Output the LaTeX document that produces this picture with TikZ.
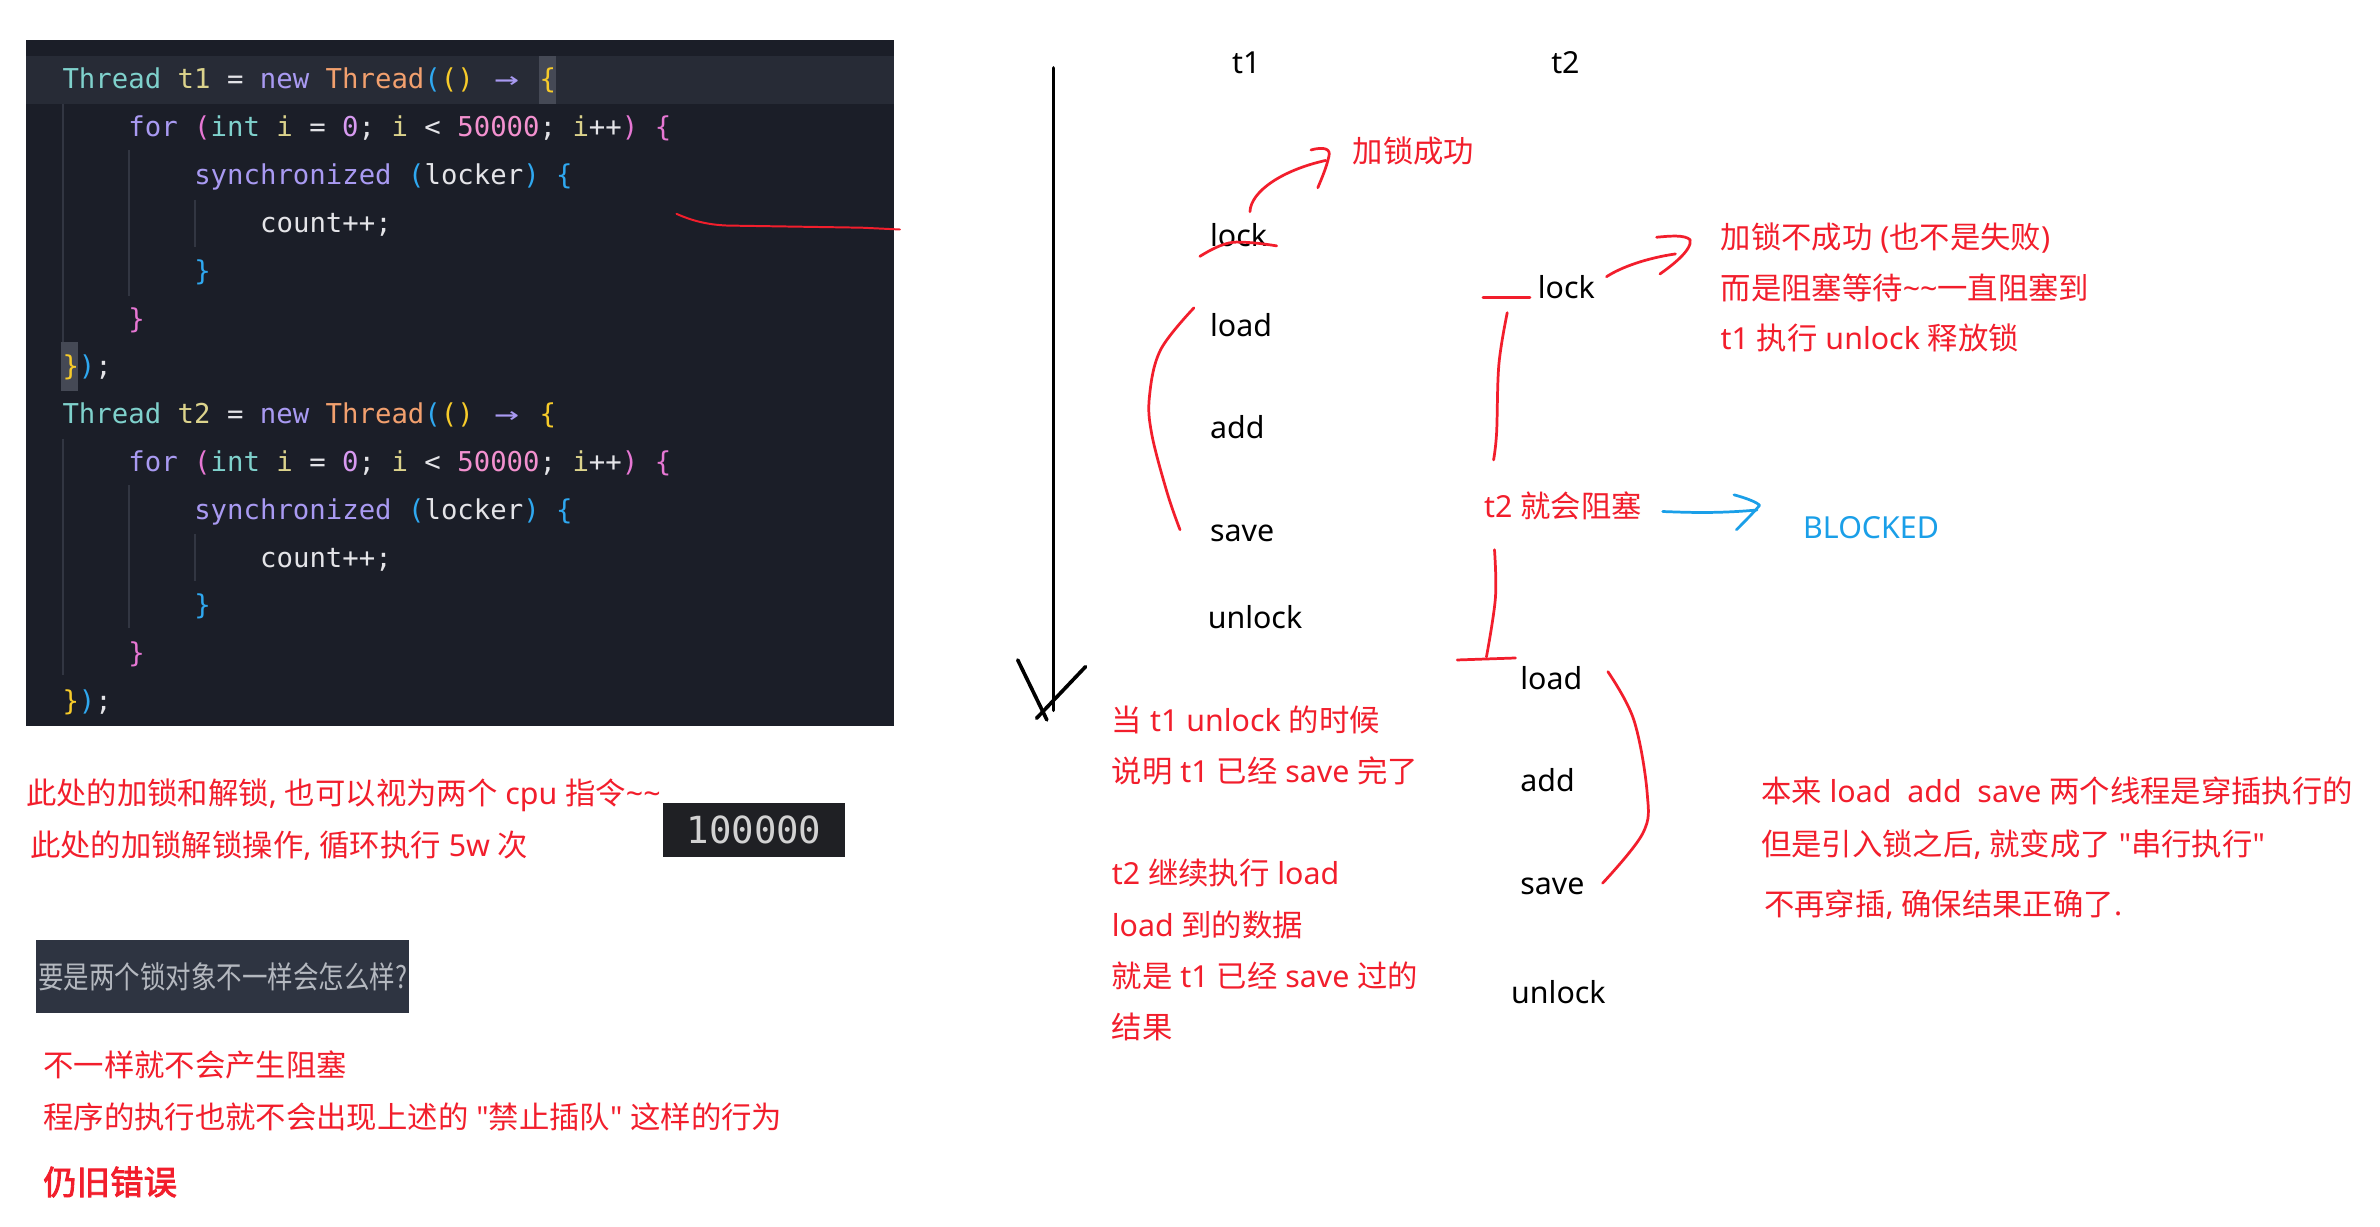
\documentclass[tikz,border=0pt]{standalone}
\usepackage{fontspec}
\usepackage{graphicx}
\newfontfamily\lat{Noto Sans}
\newfontfamily\cjk{Noto Sans CJK SC}
\newfontfamily\cjkbold{Noto Sans CJK SC}[FakeBold=2.5]
\newfontfamily\codefont{DejaVu Sans Mono}
\definecolor{myred}{HTML}{F21E2C}
\definecolor{myblue}{HTML}{1A9FE8}
\definecolor{cbg}{HTML}{1B1E28}
\definecolor{cband}{HTML}{272B36}
\definecolor{chl}{HTML}{454955}
\definecolor{cguide}{HTML}{323642}
\definecolor{cteal}{HTML}{7FD1CC}
\definecolor{ckhaki}{HTML}{DCD38C}
\definecolor{cwhite}{HTML}{E4E4E8}
\definecolor{cpurple}{HTML}{A99AF2}
\definecolor{corange}{HTML}{F2A06E}
\definecolor{cblue}{HTML}{2FA8F0}
\definecolor{cyellow}{HTML}{F7CB2A}
\definecolor{cpink}{HTML}{E777D4}
\definecolor{cnum}{HTML}{F391CF}
\definecolor{czero}{HTML}{D79AF0}
\definecolor{numbg}{HTML}{1F2024}
\definecolor{numfg}{HTML}{D2D2D2}
\definecolor{qbg}{HTML}{2E3441}
\definecolor{qfg}{HTML}{B4B8BF}
\newcommand{\kc}[2]{\textcolor{#1}{#2}}
\newcommand{\codearr}{\makebox[1.204em][c]{\scalebox{1.5}[1]{→}}}
\frenchspacing
\tikzset{
  rtxt/.style={anchor=base west, inner sep=0pt, text=myred, font=\lat\fontsize{20}{24}\selectfont},
  btxt/.style={anchor=base west, inner sep=0pt, text=black, font=\lat\fontsize{20}{24}\selectfont},
  codeline/.style={anchor=base west, inner sep=0pt, font=\codefont\fontsize{18}{20}\selectfont},
  hand/.style={draw=myred, line width=1.8pt, line cap=round, line join=round},
  guide/.style={draw=cguide, line width=1pt},
}
\begin{document}
\begin{tikzpicture}[x=1pt,y=-1pt]
\useasboundingbox (0,0) rectangle (1568,808);
\fill[white] (0,0) rectangle (1568,808);

% ---------------- code panel ----------------
\fill[cbg] (16.9,26.2) rectangle (588.7,478);
\fill[cband] (16.9,36.8) rectangle (588.7,68.3);
\fill[chl] (355.2,36.8) rectangle (366.6,68.3);
\fill[chl] (40.5,225.6) rectangle (51.5,257.4);
% indent guides
\draw[guide] (41.5,68.3) -- (41.5,225.6);
\draw[guide] (85,99) -- (85,194.7);
\draw[guide] (128.3,131.5) -- (128.3,162.4);
\draw[guide] (41.5,288.9) -- (41.5,444.7);
\draw[guide] (85,319.6) -- (85,413.8);
\draw[guide] (128.3,352) -- (128.3,383);

\node[codeline] (c0) at (41,58.6) {\kc{cteal}{Thread} \kc{ckhaki}{t1} \kc{cwhite}{=} \kc{cpurple}{new} \kc{corange}{Thread}\kc{cblue}{(}\kc{cyellow}{()} \kc{cpurple}{\codearr} \kc{cyellow}{\{}};
\node[codeline] (c1) at (84.4,90.1) {\kc{cpurple}{for} \kc{cpink}{(}\kc{cteal}{int} \kc{ckhaki}{i} \kc{cwhite}{=} \kc{czero}{0}\kc{cwhite}{;} \kc{ckhaki}{i} \kc{cwhite}{<} \kc{cnum}{50000}\kc{cwhite}{;} \kc{ckhaki}{i}\kc{cwhite}{++}\kc{cpink}{)} \kc{cpink}{\{}};
\node[codeline] (c2) at (127.8,121.6) {\kc{cpurple}{synchronized} \kc{cblue}{(}\kc{cwhite}{locker}\kc{cblue}{)} \kc{cblue}{\{}};
\node[codeline] (c3) at (171.2,153.1) {\kc{cwhite}{count++;}};
\node[codeline] (c4) at (127.8,184.6) {\kc{cblue}{\}}};
\node[codeline] (c5) at (84.4,216.1) {\kc{cpink}{\}}};
\node[codeline] (c6) at (41,247.6) {\kc{cyellow}{\}}\kc{cblue}{)}\kc{cwhite}{;}};
\node[codeline] (c7) at (41,279.1) {\kc{cteal}{Thread} \kc{ckhaki}{t2} \kc{cwhite}{=} \kc{cpurple}{new} \kc{corange}{Thread}\kc{cblue}{(}\kc{cyellow}{()} \kc{cpurple}{\codearr} \kc{cyellow}{\{}};
\node[codeline] (c8) at (84.4,310.6) {\kc{cpurple}{for} \kc{cpink}{(}\kc{cteal}{int} \kc{ckhaki}{i} \kc{cwhite}{=} \kc{czero}{0}\kc{cwhite}{;} \kc{ckhaki}{i} \kc{cwhite}{<} \kc{cnum}{50000}\kc{cwhite}{;} \kc{ckhaki}{i}\kc{cwhite}{++}\kc{cpink}{)} \kc{cpink}{\{}};
\node[codeline] (c9) at (127.8,342.1) {\kc{cpurple}{synchronized} \kc{cblue}{(}\kc{cwhite}{locker}\kc{cblue}{)} \kc{cblue}{\{}};
\node[codeline] (c10) at (171.2,373.6) {\kc{cwhite}{count++;}};
\node[codeline] (c11) at (127.8,405.1) {\kc{cblue}{\}}};
\node[codeline] (c12) at (84.4,436.6) {\kc{cpink}{\}}};
\node[codeline] (c13) at (41,468.1) {\kc{cyellow}{\}}\kc{cblue}{)}\kc{cwhite}{;}};

% red mark next to the code
\coordinate (mk1) at (445.7,140.9);
\coordinate (mk2) at (592.9,151.2);
\draw[hand, line width=1.3pt] (mk1) .. controls (455,145) and (465,148) .. (479,148.6) -- (567.7,150) -- (mk2);

% ---------------- left notes ----------------
\node[rtxt] (n1) at (17,530) {{\cjk 此处的加锁和解锁}, {\cjk 也可以视为两个} cpu {\cjk 指令}\textasciitilde\textasciitilde};
\node[rtxt] (n2) at (19.7,564) {{\cjk 此处的加锁解锁操作}, {\cjk 循环执行} 5w {\cjk 次}};
\node[fill=numbg, text=numfg, minimum width=119.9pt, minimum height=35.2pt, inner sep=0pt,
      font=\codefont\fontsize{24.6}{26}\selectfont] (num) at (496.75,546.8) {100000};
\node[fill=qbg, text=qfg, minimum width=245.8pt, minimum height=47.8pt, inner sep=0pt,
      font=\cjk\fontsize{16.8}{20}\selectfont] (q) at (146.7,643.2) {\scalebox{1}[1.2]{要是两个锁对象不一样会怎么样?}};
\node[rtxt] (d1) at (28.4,709.5) {{\cjk 不一样就不会产生阻塞}};
\node[rtxt] (d2) at (28.4,743.5) {{\cjk 程序的执行也就不会出现上述的} "{\cjk 禁止插队}" {\cjk 这样的行为}};
\node[rtxt, font=\cjkbold\fontsize{22}{26}\selectfont] (d3) at (28.4,787) {仍旧错误};

% ---------------- time axis ----------------
\coordinate (tTop) at (694,44.7);
\coordinate (tEnd) at (694,468);
\coordinate (hL) at (670.5,434.8);
\coordinate (hLe) at (689.7,474.3);
\coordinate (hR) at (715.2,439.2);
\coordinate (hRe) at (682.9,473.2);
\draw[line width=2.4pt, line cap=round] (tTop) -- (tEnd);
\draw[line width=2.4pt, line cap=round] (hL) -- (hLe);
\draw[line width=2.4pt, line cap=round] (hR) -- (hRe);

% ---------------- thread columns ----------------
\node[btxt] (t1) at (811.6,48.3) {t1};
\node[btxt] (t2) at (1021.8,48.3) {t2};
\node[btxt] (a1) at (797,162.5) {lock};
\node[btxt] (a2) at (797,221.6) {load};
\node[btxt] (a3) at (797,289) {add};
\node[btxt] (a4) at (797,356.7) {save};
\node[btxt] (a5) at (795.5,414) {unlock};
\node[btxt] (b1) at (1013,196.6) {lock};
\node[btxt] (b2) at (1001.4,454) {load};
\node[btxt] (b3) at (1001.4,521.5) {add};
\node[btxt] (b4) at (1001.4,589.6) {save};
\node[btxt] (b5) at (995.4,661) {unlock};

% t1 lock: strike + arrow to 加锁成功
\node[rtxt] (ok) at (891,107) {{\cjk 加锁成功}};
\draw[hand] (790.5,168.9) .. controls (800,163) and (808,159.5) .. (814.6,159.5) .. controls (825,159.5) and (835,161) .. (841.1,162);
\coordinate (okS) at (823.5,139.5);
\coordinate (okE) at (873.4,105.7);
\draw[hand] (okS) .. controls (824,126) and (845,112) .. (okE);
\draw[hand] (863.7,98.8) .. controls (872,96.5) and (877,98) .. (875.5,103) .. controls (874,110) and (871,117) .. (868.2,123.7);
% t1 bracket load..save
\draw[hand] plot[smooth, tension=0.6] coordinates {(786.6,202.8) (764.6,230.5) (757.3,261) (758.8,286) (769,324.8) (777.4,349)};

% t2 lock
\draw[hand] (977,196) -- (1008,196);
\coordinate (fS) at (1058.4,182.3);
\coordinate (fE) at (1103.8,167.3);
\draw[hand] (fS) .. controls (1068,176) and (1085,170) .. (fE);
\draw[hand] (1091.4,156.3) .. controls (1100,155.5) and (1110,154.5) .. (1113.5,158) .. controls (1115,165) and (1100,176) .. (1093.6,180.5);
\node[rtxt] (f1) at (1133.4,164) {{\cjk 加锁不成功} ({\cjk 也不是失败})};
\node[rtxt] (f2) at (1133.4,197) {{\cjk 而是阻塞等待}\textasciitilde\textasciitilde{\cjk 一直阻塞到}};
\node[rtxt] (f3) at (1133.4,230.5) {t1 {\cjk 执行} unlock {\cjk 释放锁}};
\draw[hand] plot[smooth, tension=0.6] coordinates {(993,206) (987.5,240) (986,285) (984,303)};

% blocked
\node[rtxt] (blk) at (977.6,341) {t2 {\cjk 就会阻塞}};
\coordinate (bS) at (1095.4,337);
\coordinate (bE) at (1157.5,336);
\draw[draw=myblue, line width=1.8pt, line cap=round, line join=round] (bS) .. controls (1110,337.5) and (1130,338.5) .. (bE);
\draw[draw=myblue, line width=1.8pt, line cap=round, line join=round] (1142.4,326) .. controls (1150,328) and (1158,331) .. (1159.2,333) .. controls (1155,338) and (1149,344) .. (1144,349);
\node[btxt, text=myblue] (BL) at (1187.8,354.6) {BLOCKED};

\draw[hand] plot[smooth, tension=0.6] coordinates {(984.6,362.2) (985.2,394) (979.3,432.8)};
\draw[hand] (960,434.8) -- (998.4,433.5);

% t2 bracket load..save
\draw[hand] plot[smooth, tension=0.6] coordinates {(1059.3,442.5) (1076.4,474.3) (1085.2,522.6) (1082.3,549) (1055.8,581.9)};

% middle notes
\node[rtxt] (m1) at (732.3,482) {{\cjk 当} t1 unlock {\cjk 的时候}};
\node[rtxt] (m2) at (732.3,515.7) {{\cjk 说明} t1 {\cjk 已经} save {\cjk 完了}};
\node[rtxt] (m3) at (732.3,583) {t2 {\cjk 继续执行} load};
\node[rtxt] (m4) at (732.3,616.7) {load {\cjk 到的数据}};
\node[rtxt] (m5) at (732.3,650.4) {{\cjk 就是} t1 {\cjk 已经} save {\cjk 过的}};
\node[rtxt] (m6) at (732.3,684) {{\cjk 结果}};

% right notes
\node[rtxt] (r1) at (1160,528.5) {{\cjk 本来} load\ \ add\ \ save {\cjk 两个线程是穿插执行的}};
\node[rtxt] (r2) at (1160,563.5) {{\cjk 但是引入锁之后}, {\cjk 就变成了} "{\cjk 串行执行}"};
\node[rtxt] (r3) at (1162,603) {{\cjk 不再穿插}, {\cjk 确保结果正确了}.};
\end{tikzpicture}
\end{document}
